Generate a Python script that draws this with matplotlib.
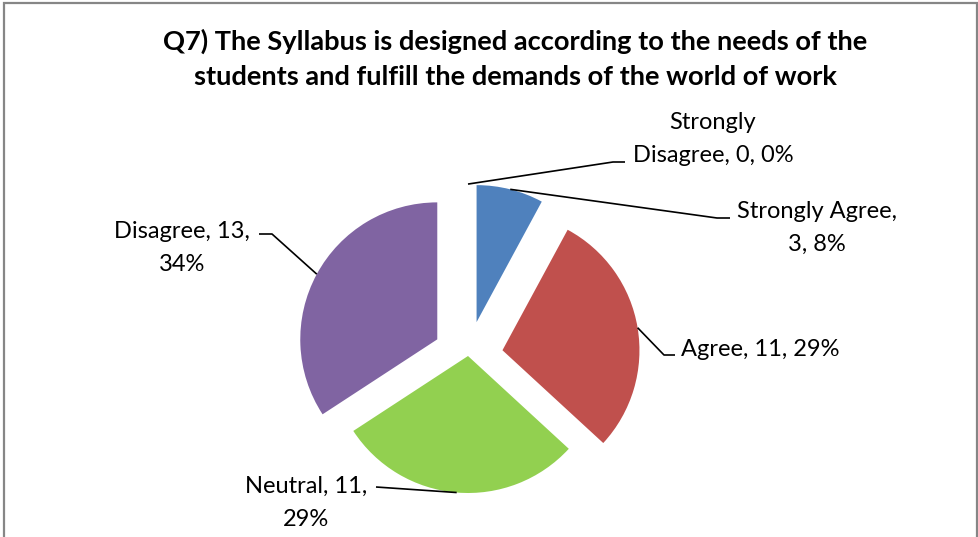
import matplotlib
matplotlib.use("Agg")
import matplotlib.pyplot as plt
import numpy as np

# ---- data ----
categories = ["Strongly Agree", "Agree", "Neutral", "Disagree", "Strongly Disagree"]
counts = [3, 11, 11, 13, 0]
percent_labels = ["8%", "29%", "29%", "34%", "0%"]
title = "Q7) The Syllabus is designed according to the needs of the\nstudents and fulfill the demands of the world of work"

# ---- style / layout ----
colors = ["#4F81BD", "#C0504D", "#92D050", "#8064A2", "#F79646"]
explode = [0.255, 0.255, 0.0, 0.255, 0.255]
W, H, DPI = 979, 537, 100
CX, CY, R = 468, 356, 137   # pie centre and radius in pixels

FONT = "Lato"
plt.rcParams["font.family"] = [FONT, "DejaVu Sans"]

def px(x, y):
    """pixel (y down) -> data units (radius = 1)"""
    return (x - CX) / R, (CY - y) / R

fig = plt.figure(figsize=(W / DPI, H / DPI), dpi=DPI)
ax = fig.add_axes([0, 0, 1, 1])
wedges, _ = ax.pie(counts, colors=colors, explode=explode, startangle=90,
                   counterclock=False, radius=1, center=(0, 0),
                   wedgeprops=dict(linewidth=0))
x0, y0 = px(0, H)
x1, y1 = px(W, 0)
ax.set_xlim(x0, x1)
ax.set_ylim(y0, y1)
ax.set_aspect("equal")
ax.axis("off")

# border
bx0, by0 = px(4, H + 5)
bx1, by1 = px(977, 3)
ax.add_patch(plt.Rectangle((bx0, by0), bx1 - bx0, by1 - by0, fill=False,
                           edgecolor="#868686", linewidth=1.6, clip_on=False))

# title
tx, ty = px(515, 59)
ax.text(tx, ty, title, ha="center", va="center", fontsize=19.6,
        fontweight="bold", linespacing=1.55, color="black")

# label layout: text (with line break), text anchor, ha, elbow, end of leader
layout = {
    "Strongly Disagree": dict(txt="Strongly\nDisagree, {c}, {p}", pos=(713, 139), ha="center",
                              elbow=(613, 162), end=(625, 162)),
    "Strongly Agree": dict(txt="Strongly Agree,\n{c}, {p}", pos=(817, 228), ha="center",
                           elbow=(717, 218), end=(730, 218)),
    "Agree": dict(txt="Agree, {c}, {p}", pos=(681, 350), ha="left",
                  elbow=(664, 355), end=(675, 355)),
    "Neutral": dict(txt="Neutral, {c},\n{p}", pos=(306, 503), ha="center",
                    elbow=(376, 487), end=(376, 487)),
    "Disagree": dict(txt="Disagree, {c},\n{p}", pos=(182, 248), ha="center",
                     elbow=(272, 234), end=(259, 234)),
}

total = sum(counts)
theta = 90.0
for cat, c, p, e in zip(categories, counts, percent_labels, explode):
    span = 360.0 * c / total
    mid = np.deg2rad(theta - span / 2)
    theta -= span
    sx, sy = (1 + e) * np.cos(mid), (1 + e) * np.sin(mid)
    L = layout[cat]
    ex, ey = px(*L["elbow"])
    nx, ny = px(*L["end"])
    ax.plot([sx, ex, nx], [sy, ey, ny], color="black", linewidth=1.2,
            solid_capstyle="butt")
    lx, ly = px(*L["pos"])
    ax.text(lx, ly, L["txt"].format(c=c, p=p), ha=L["ha"], va="center",
            fontsize=17, linespacing=1.72, color="black",
            multialignment="center")

fig.savefig("out.png", dpi=DPI, facecolor="white")
